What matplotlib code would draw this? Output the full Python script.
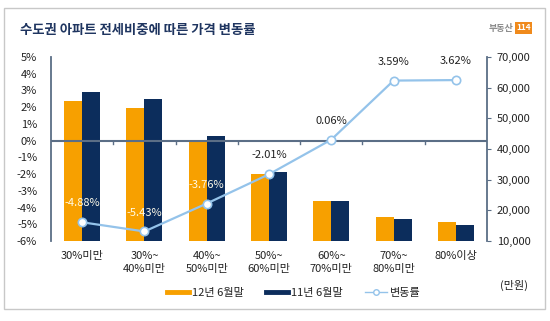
import matplotlib
matplotlib.use("Agg")
import matplotlib.pyplot as plt
from matplotlib.patches import Rectangle
from matplotlib.lines import Line2D
from matplotlib.ticker import FuncFormatter
import numpy as np

plt.rcParams['font.family'] = ['Noto Sans CJK KR', 'DejaVu Sans']

# 전세비중 구간
categories = ['30%미만', '30%~\n40%미만', '40%~\n50%미만', '50%~\n60%미만',
              '60%~\n70%미만', '70%~\n80%미만', '80%이상']
# 평균 매매가 (만원)
price_2012 = [55700, 53500, 42800, 31700, 23000, 17800, 16200]
price_2011 = [58600, 56400, 44400, 32400, 23000, 17100, 15200]
# 변동률 (%)
change_rate = [-4.88, -5.43, -3.76, -2.01, 0.06, 3.59, 3.62]
rate_labels = ['-4.88%', '-5.43%', '-3.76%', '-2.01%', '0.06%', '3.59%', '3.62%']

orange = '#f7a000'
navy = '#0c2d5c'
lineblue = '#94c3ea'
axcol = '#5b6e86'
textcol = '#222222'

fig = plt.figure(figsize=(5.5, 3.21), dpi=100)
fig.patches.append(Rectangle((4 / 550, 1 - 309 / 321), 541 / 550, 301 / 321,
                             transform=fig.transFigure, fill=False,
                             edgecolor='#c8c8c8', linewidth=1.0))

ax = fig.add_axes([51 / 550, 1 - 241 / 321, 436 / 550, 184 / 321])
ax2 = ax.twinx()

x = np.arange(len(categories))
w = 0.29
ax2.bar(x - w / 2, price_2012, w, color=orange, zorder=2)
ax2.bar(x + w / 2, price_2011, w, color=navy, zorder=2)
ax2.set_ylim(10000, 70000)
ax2.set_yticks(range(10000, 70001, 10000))
ax2.yaxis.set_major_formatter(FuncFormatter(lambda v, p: f'{int(v):,}'))

# 변동률 선은 앞쪽 축에 그림
ax.set_zorder(ax2.get_zorder() + 1)
ax.patch.set_visible(False)
ax.plot(x, change_rate, color=lineblue, linewidth=1.6, marker='o', markersize=6,
        markerfacecolor='white', markeredgecolor=lineblue, markeredgewidth=1.2, zorder=3)
ax.set_ylim(-6, 5)
ax.set_yticks(range(-6, 6))
ax.yaxis.set_major_formatter(FuncFormatter(lambda v, p: f'{int(v)}%'))
ax.set_xlim(-0.5, len(categories) - 0.5)

for i, (v, lab) in enumerate(zip(change_rate, rate_labels)):
    col = '#fffbe8' if i < 3 else textcol
    ax.annotate(lab, (i, v), xytext=(0, 10), textcoords='offset points',
                ha='center', va='bottom', fontsize=8, color=col, zorder=4)

# 0% 기준선과 구간 경계 눈금
ax.axhline(0, color=axcol, linewidth=1.5, zorder=1)
for b in np.arange(0.5, len(categories) - 1, 1.0):
    ax.plot([b, b], [0, -0.18], color=axcol, linewidth=1.0, clip_on=False)

ax.set_xticks(x)
ax.set_xticklabels(categories, fontsize=8, color=textcol, linespacing=1.45)
ax.tick_params(axis='x', length=0, pad=7)
ax.tick_params(axis='y', labelsize=8, labelcolor=textcol, length=0, pad=10)
ax2.tick_params(axis='y', labelsize=8, labelcolor=textcol, length=3, color=axcol, pad=4)

for a in (ax, ax2):
    for s in a.spines.values():
        s.set_visible(False)
ax.spines['left'].set_visible(True)
ax.spines['left'].set_color(axcol)
ax.spines['left'].set_linewidth(1.3)
ax2.spines['right'].set_visible(True)
ax2.spines['right'].set_color(axcol)
ax2.spines['right'].set_linewidth(1.3)

fig.text(20 / 550, 1 - 30 / 321, '수도권 아파트 전세비중에 따른 가격 변동률', fontsize=9.6,
         fontweight='bold', color='#1f3560', va='center', ha='left')
fig.text(489 / 550, 1 - 28 / 321, '부동산', fontsize=6.5, color='#8a8a8a',
         va='center', ha='left', fontweight='bold')
fig.text(516 / 550, 1 - 28 / 321, '114', fontsize=6, color='white', va='center', ha='left',
         fontweight='bold', bbox=dict(boxstyle='square,pad=0.15', fc='#f08a1c', ec='none'))

fig.text(500 / 550, 1 - 285 / 321, '(만원)', fontsize=8, color=textcol, va='center', ha='left')

handles = [Line2D([], [], color=orange, linewidth=3.5),
           Line2D([], [], color=navy, linewidth=3.5),
           Line2D([], [], color=lineblue, linewidth=1.0, marker='o', markersize=4,
                  markerfacecolor='white', markeredgecolor=lineblue)]
fig.legend(handles, ['12년 6월말', '11년 6월말', '변동률'], loc='center',
           bbox_to_anchor=(294 / 550, 1 - 293 / 321), ncol=3, frameon=False,
           fontsize=8, handlelength=2.0, handletextpad=0.25, columnspacing=2.0,
           labelcolor=textcol)

fig.savefig('out.png', dpi=100)
